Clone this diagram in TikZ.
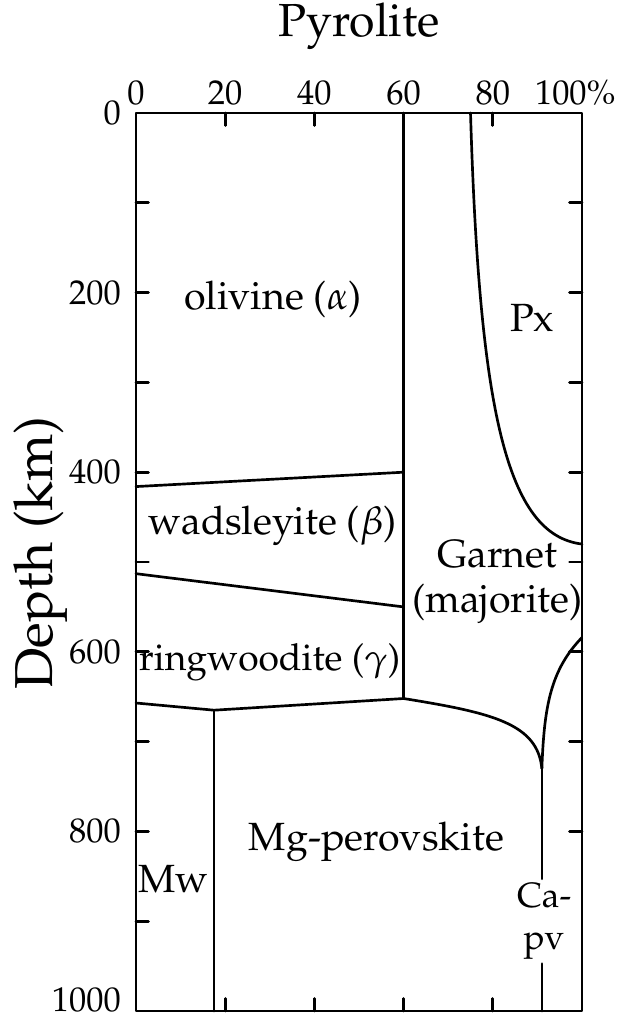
\documentclass[tikz,border=0pt]{standalone}
\usepackage[T1]{fontenc}
\usepackage{mathpazo}
\begin{document}
\begin{tikzpicture}[x=1.115mm,y=-.2245mm,line width=1.9pt,
 line cap=round,line join=round,font=\fontsize{28}{32}\selectfont,
 tick/.style={font=\fontsize{24.5}{28}\selectfont,inner sep=0pt}]
\useasboundingbox (-30.49,-125.8) rectangle (110.31,1011.1);
\draw (0,0) rectangle (100,1000);
\draw (20,0)--(20,14) (40,0)--(40,14) (80,0)--(80,14);
\draw (20,1000)--(20,986) (40,1000)--(40,986) (60,1000)--(60,986) (80,1000)--(80,986);
\draw (0,100)--(2.8,100) (0,200)--(2.8,200) (0,300)--(2.8,300) (0,400)--(2.8,400)
  (0,500)--(2.8,500) (0,600)--(2.8,600) (0,700)--(2.8,700) (0,800)--(2.8,800)
  (0,900)--(2.8,900);
\draw (100,100)--(97.2,100) (100,200)--(97.2,200) (100,300)--(97.2,300)
  (100,400)--(97.2,400) (100,500)--(97.2,500) (100,600)--(97.2,600)
  (100,700)--(97.2,700) (100,800)--(97.2,800);
\node[tick,anchor=south] (p0) at (0,-7) {0};
\node[tick,anchor=south] (p20) at (20,-7) {20};
\node[tick,anchor=south] (p40) at (40,-7) {40};
\node[tick,anchor=south] (p60) at (60,-7) {60};
\node[tick,anchor=south] (p80) at (80,-7) {80};
\node[tick,anchor=south] (p100) at (98.5,-7) {100\%};
\node[tick,anchor=east] (d0) at (-3.1,0) {0};
\node[tick,anchor=east] (d200) at (-3.1,200) {200};
\node[tick,anchor=east] (d400) at (-3.1,400) {400};
\node[tick,anchor=east] (d600) at (-3.1,600) {600};
\node[tick,anchor=east] (d800) at (-3.1,800) {800};
\node[tick,anchor=east] (d1000) at (-3.1,988) {1000};
\node[font=\fontsize{33}{38}\selectfont] (title) at (50,-97) {Pyrolite};
\node[font=\fontsize{38}{42}\selectfont,rotate=90] (depth) at (-21.3,490) {Depth (km)};
\coordinate (jn) at (60,652);
\coordinate (mw) at (17.5,665);
\coordinate (cusp) at (91,730);
\draw (60,0)--(jn);
\draw (0,416)--(60,400);
\draw (0,513)--(60,550);
\draw (0,657)--(mw)--(jn) .. controls (80,668) and (90,680) .. (cusp);
\draw (100,584) .. controls (93,620) and (91.5,660) .. (cusp);
\draw (75,0) .. controls (77,330) and (83,470) .. (100,480);
\draw (mw)--(17.5,1000);
\node (oli) at (30.7,208) {olivine ($\alpha$)};
\node (px) at (88.8,228) {Px};
\node (wad) at (30.6,460) {wadsleyite ($\beta$)};
\node[align=center] (gar) at (81,522) {Garnet\\(majorite)};
\node[font=\fontsize{26.5}{30}\selectfont] (ring) at (30,612) {ringwoodite ($\gamma$)};
\node (mgpv) at (53.9,812) {Mg-perovskite};
\node (mwl) at (8.4,853) {Mw};
\node[align=center,inner sep=2pt,font=\fontsize{25}{30}\selectfont] (capv) at (91.5,900) {Ca-\\pv};
\draw (cusp)--(cusp|-capv.north);
\draw (cusp|-capv.south)--(91,1000);
\end{tikzpicture}
\end{document}
